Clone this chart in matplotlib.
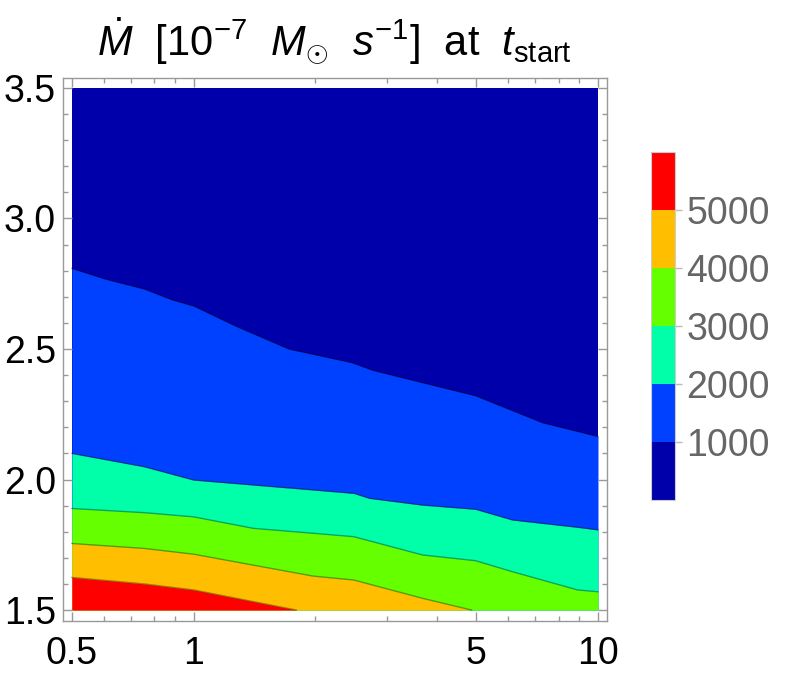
import matplotlib.pyplot as plt
from matplotlib.colors import ListedColormap, BoundaryNorm
from matplotlib.cm import ScalarMappable
from matplotlib.ticker import FixedLocator, NullFormatter, NullLocator

plt.rcParams['font.family'] = ['Liberation Sans', 'DejaVu Sans']
plt.rcParams['mathtext.fontset'] = 'custom'
plt.rcParams['mathtext.rm'] = 'Liberation Sans'
plt.rcParams['mathtext.it'] = 'Liberation Sans:italic'

levels = [1000, 2000, 3000, 4000, 5000]
band_colors = ['#0000aa', '#0040ff', '#00ffa8', '#66ff00', '#ffbf00', '#ff0000']

# contour boundaries
x_1000 = [0.5, 0.605, 0.755, 0.886, 1.0, 1.27, 1.72, 2.46, 2.78, 3.47, 4.98, 7.28, 10]
y_1000 = [2.809, 2.768, 2.730, 2.688, 2.665, 2.588, 2.500, 2.448, 2.418, 2.381, 2.321, 2.218, 2.165]
x_2000 = [0.5, 0.755, 1.0, 1.405, 1.977, 2.49, 2.72, 3.68, 4.98, 6.14, 8.90, 10]
y_2000 = [2.100, 2.049, 1.998, 1.979, 1.960, 1.947, 1.928, 1.902, 1.886, 1.845, 1.817, 1.807]
x_3000 = [0.5, 0.755, 1.0, 1.405, 1.977, 2.49, 3.68, 4.98, 6.14, 8.90, 10]
y_3000 = [1.889, 1.873, 1.857, 1.813, 1.794, 1.781, 1.711, 1.689, 1.647, 1.577, 1.570]
x_4000 = [0.5, 0.755, 1.0, 1.405, 1.977, 2.49, 3.68, 4.87]
y_4000 = [1.755, 1.736, 1.714, 1.672, 1.630, 1.615, 1.545, 1.5]
x_5000 = [0.5, 0.755, 1.0, 1.795]
y_5000 = [1.625, 1.600, 1.577, 1.5]

boundaries = [(x_1000, y_1000), (x_2000, y_2000), (x_3000, y_3000),
              (x_4000, y_4000), (x_5000, y_5000)]

xmin, xmax = 0.5, 10
ymin, ymax = 1.5, 3.5

fig = plt.figure(figsize=(7.89, 6.75), dpi=100)
ax = fig.add_axes([63 / 789, 54 / 675, 544 / 789, 543 / 675])

# lowest band fills the whole region, each next band drawn below its boundary
ax.fill_between([xmin, xmax], ymin, ymax, color=band_colors[0], lw=0)
for (xb, yb), col in zip(boundaries, band_colors[1:]):
    ax.fill_between(xb, ymin, yb, color=col, lw=0)
for xb, yb in boundaries:
    ax.plot(xb, yb, color='k', alpha=0.35, lw=1.0)

ax.set_xscale('log')
ax.set_xlim(0.4755, 10.527)
ax.set_ylim(1.458, 3.538)

ax.xaxis.set_major_locator(FixedLocator([0.5, 1, 5, 10]))
ax.set_xticklabels(['0.5', '1', '5', '10'])
ax.xaxis.set_minor_locator(FixedLocator([0.6, 0.7, 0.8, 0.9, 2, 3, 4, 6, 7, 8, 9]))
ax.xaxis.set_minor_formatter(NullFormatter())
ax.set_yticks([1.5, 2.0, 2.5, 3.0, 3.5])
ax.set_yticklabels(['1.5', '2.0', '2.5', '3.0', '3.5'])
ax.yaxis.set_minor_locator(FixedLocator([1.5 + 0.1 * i for i in range(21)]))

ax.tick_params(which='both', direction='in', top=True, right=True,
               color='#999999', width=1, labelsize=27, labelcolor='black')
ax.tick_params(which='major', length=6.5)
ax.tick_params(which='minor', length=3.8)
ax.tick_params(axis='x', pad=11)
ax.tick_params(axis='y', pad=5)
for sp in ax.spines.values():
    sp.set_color('#999999')
    sp.set_linewidth(1)

fig.text(334 / 789, 1 - 41 / 675,
         r'$\dot{M}$  [10$^{-7}$  $M_{\odot}$  $s^{-1}$]  at  $t_{\mathrm{start}}$',
         ha='center', va='center', fontsize=30)

# colorbar
cax = fig.add_axes([651 / 789, 175 / 675, 24 / 789, 348 / 675])
cmap = ListedColormap(band_colors)
norm = BoundaryNorm([0] + levels + [6000], cmap.N)
cb = fig.colorbar(ScalarMappable(norm=norm, cmap=cmap), cax=cax, ticks=levels)
cax.yaxis.set_minor_locator(NullLocator())
cb.outline.set_edgecolor('#cccccc')
cb.outline.set_linewidth(0.8)
cax.tick_params(length=5, width=1, color='#bbbbbb', labelcolor='#666666',
                labelsize=27, pad=3)

fig.savefig('out.png', dpi=100)
